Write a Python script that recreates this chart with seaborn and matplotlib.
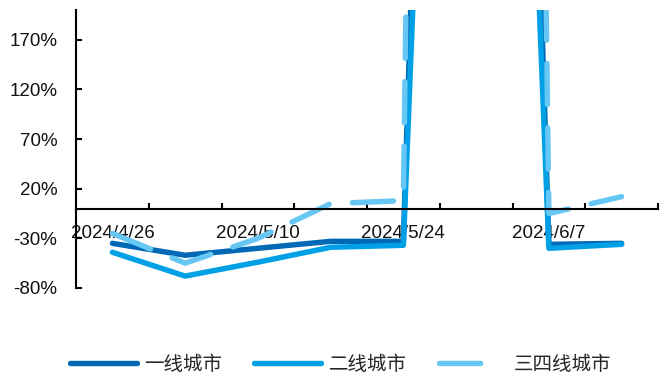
import matplotlib
matplotlib.use("Agg")
import matplotlib.pyplot as plt
from matplotlib.ticker import FixedLocator, FuncFormatter
import numpy as np
import pandas as pd
import seaborn as sns

# Weekly year-on-year change (%) of transaction area by city tier
dates = ["2024/4/26", "2024/5/3", "2024/5/10", "2024/5/17",
         "2024/5/24", "2024/5/31", "2024/6/7", "2024/6/14"]
tier1 = [-35, -47, -40, -33, -33, 2300, -36, -35]
tier2 = [-44, -68, -54, -39, -37, 1800, -40, -36]
tier34 = [-25, -55, -30, 5, 8, 5500, -5, 12]
series_names = ["一线城市", "二线城市", "三四线城市"]
colors = ["#0068B5", "#00A0E6", "#66C7F4"]
y_ticks = [-80, -30, 20, 70, 120, 170]
x_label_dates = ["2024/4/26", "2024/5/10", "2024/5/24", "2024/6/7"]

sns.set_theme(style="white")
plt.rcParams["font.family"] = ["Liberation Sans", "DejaVu Sans"]

frames = []
for name, vals in zip(series_names, [tier1, tier2, tier34]):
    frames.append(pd.DataFrame({"idx": np.arange(len(dates)), "date": dates,
                                "value": vals, "tier": name}))
df = pd.concat(frames, ignore_index=True)

LW = 3.9
DASH = (7.6, 4.3)

fig = plt.figure(figsize=(6.6, 3.78), dpi=100)
ax = fig.add_axes([76 / 660, 1 - 288 / 378, 582 / 660, 278 / 378])

sns.lineplot(data=df, x="idx", y="value", hue="tier", style="tier",
             hue_order=series_names, style_order=series_names,
             palette=dict(zip(series_names, colors)),
             dashes={"一线城市": "", "二线城市": "", "三四线城市": DASH},
             linewidth=LW, ax=ax, legend=False,
             solid_capstyle="round", dash_capstyle="round", solid_joinstyle="round")

ax.set_xlim(-0.5, len(dates) - 0.5)
ax.set_ylim(-80, 200)
ax.set_xlabel("")
ax.set_ylabel("")

# Axis lines: bottom spine sits on the zero line
for side in ["top", "right"]:
    ax.spines[side].set_visible(False)
ax.spines["bottom"].set_position(("data", 0))
for side in ["left", "bottom"]:
    ax.spines[side].set_color("black")
    ax.spines[side].set_linewidth(1.5)

ax.yaxis.set_major_locator(FixedLocator(y_ticks))
ax.yaxis.set_major_formatter(FuncFormatter(lambda v, p: f"{v:.0f}%"))
ax.tick_params(axis="y", direction="in", length=4.5, width=1.5, color="black",
               pad=13.5, labelsize=13.5, labelcolor="#111111", left=True)

label_pos = [dates.index(d) for d in x_label_dates]
ax.xaxis.set_major_locator(FixedLocator(label_pos))
ax.set_xticklabels(x_label_dates)
ax.xaxis.set_minor_locator(FixedLocator(np.arange(len(dates)) + 0.5))
ax.tick_params(axis="x", which="major", length=0, pad=12, labelsize=13.5,
               labelcolor="#111111")
ax.tick_params(axis="x", which="minor", direction="in", length=4, width=1.5,
               color="black", bottom=True)
ax.grid(False)

handles = [plt.Line2D([], [], color=colors[0], lw=LW, solid_capstyle="round"),
           plt.Line2D([], [], color=colors[1], lw=LW, solid_capstyle="round"),
           plt.Line2D([], [], color=colors[2], lw=LW, dash_capstyle="round",
                      dashes=(7.6, 20))]
fig.legend(handles, series_names, loc="center left",
           bbox_to_anchor=(69.5 / 660, 1 - 364 / 378), ncol=3, frameon=False,
           borderpad=0, borderaxespad=0,
           handlelength=3.45, handletextpad=0.39, columnspacing=1.65,
           prop={"family": ["Noto Sans CJK SC", "DejaVu Sans"], "size": 14})

fig.savefig("out.png", dpi=100)
